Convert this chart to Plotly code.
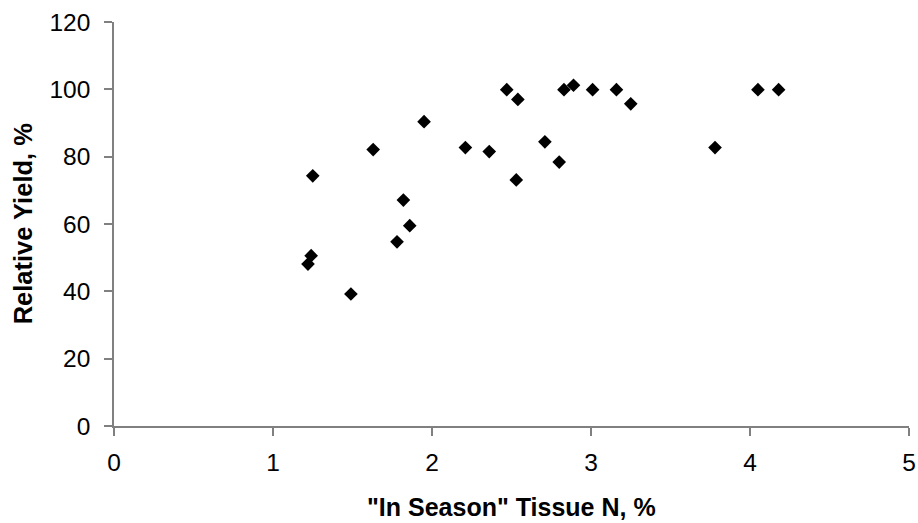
import plotly.graph_objects as go

# tissue N (%) and relative yield (%)
tissue_n = [1.25, 1.63, 1.95, 2.21, 2.36, 2.47, 2.54, 2.53, 1.82, 1.86, 1.78,
            1.24, 1.22, 1.49, 2.71, 2.80, 2.83, 2.89, 3.01, 3.16, 3.25, 3.78,
            4.05, 4.18]
rel_yield = [74.3, 82.1, 90.4, 82.7, 81.5, 99.9, 97.0, 73.1, 67.1, 59.5, 54.7,
             50.6, 48.1, 39.2, 84.4, 78.4, 99.9, 101.2, 99.9, 99.9, 95.7, 82.7,
             99.9, 99.9]

x_ticks = [0, 1, 2, 3, 4, 5]
y_ticks = [0, 20, 40, 60, 80, 100, 120]

FONT = "Liberation Sans, Arial, sans-serif"

fig = go.Figure(
    go.Scatter(
        x=tissue_n,
        y=rel_yield,
        mode="markers",
        marker=dict(symbol="diamond", size=10.5, color="black"),
        showlegend=False,
    )
)

axis_common = dict(
    showgrid=False,
    zeroline=False,
    showline=True,
    linecolor="#808080",
    linewidth=1.5,
    ticks="outside",
    ticklen=8,
    tickcolor="#808080",
    tickwidth=1.5,
    tickfont=dict(family=FONT, size=24.5, color="black"),
    ticklabeloverflow="allow",
    automargin=False,
)

fig.update_layout(
    width=918,
    height=523,
    plot_bgcolor="white",
    paper_bgcolor="white",
    margin=dict(l=114, r=9, t=22, b=97),
    xaxis=dict(range=[0, 5], tickvals=x_ticks, ticklabelstandoff=6, **axis_common),
    yaxis=dict(range=[0, 120], tickvals=y_ticks, ticklabelstandoff=9, **axis_common),
    annotations=[
        dict(text='<b>"In Season" Tissue N, %</b>', x=0.5, y=-0.201,
             xref="paper", yref="paper", xanchor="center", yanchor="middle",
             showarrow=False, font=dict(family=FONT, size=25, color="black")),
        dict(text="<b>Relative Yield, %</b>", x=-0.114, y=0.5,
             xref="paper", yref="paper", xanchor="center", yanchor="middle",
             textangle=-90, showarrow=False,
             font=dict(family=FONT, size=25.5, color="black")),
    ],
)

# page body has a default 8px margin; drop it so the figure fills the window
fig.write_html("out.html", config={"displayModeBar": False},
               post_script="document.body.style.margin='0';")
